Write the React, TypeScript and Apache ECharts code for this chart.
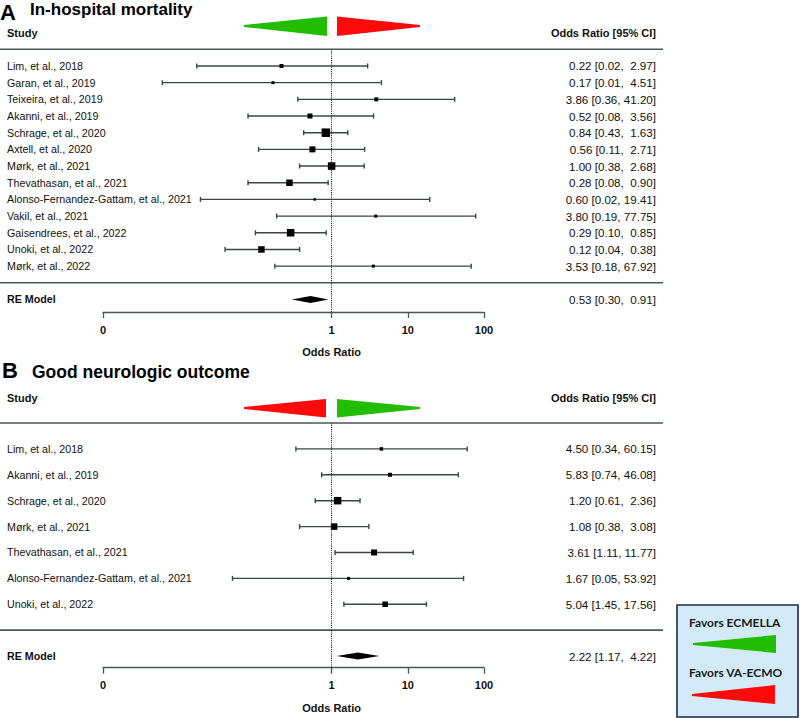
import React, { useEffect, useRef } from "react";
import * as echarts from "echarts";

// ---------- data ----------
const studiesA = [
  "Lim, et al., 2018",
  "Garan, et al., 2019",
  "Teixeira, et al., 2019",
  "Akanni, et al., 2019",
  "Schrage, et al., 2020",
  "Axtell, et al., 2020",
  "Mørk, et al., 2021",
  "Thevathasan, et al., 2021",
  "Alonso-Fernandez-Gattam, et al., 2021",
  "Vakil, et al., 2021",
  "Gaisendrees, et al., 2022",
  "Unoki, et al., 2022",
  "Mørk, et al., 2022",
];
const orA = [0.22, 0.17, 3.86, 0.52, 0.84, 0.56, 1.0, 0.28, 0.6, 3.8, 0.29, 0.12, 3.53];
const loA = [0.017, 0.006, 0.36, 0.08, 0.43, 0.11, 0.38, 0.08, 0.019, 0.19, 0.1, 0.04, 0.18];
const hiA = [2.97, 4.51, 41.2, 3.56, 1.63, 2.71, 2.68, 0.9, 19.41, 77.75, 0.85, 0.38, 67.92];
const weightA = [5, 3, 5, 7, 14, 9, 12, 10, 2, 3, 12, 10, 3];
const reA = [0.53, 0.3, 0.91];

const studiesB = [
  "Lim, et al., 2018",
  "Akanni, et al., 2019",
  "Schrage, et al., 2020",
  "Mørk, et al., 2021",
  "Thevathasan, et al., 2021",
  "Alonso-Fernandez-Gattam, et al., 2021",
  "Unoki, et al., 2022",
];
const orB = [4.5, 5.83, 1.2, 1.08, 3.61, 1.67, 5.04];
const loB = [0.34, 0.74, 0.61, 0.38, 1.11, 0.05, 1.45];
const hiB = [60.15, 46.08, 2.36, 3.08, 11.77, 53.92, 17.56];
const weightB = [4, 5, 12, 10, 9, 3, 8];
const reB = [2.22, 1.17, 4.22];

const tickValues = [0.001, 1, 10, 100];
const tickLabels = ["0", "1", "10", "100"];
const panelLetters = ["A", "B"];
const panelTitles = ["In-hospital mortality", "Good neurologic outcome"];
const legendLabels = ["Favors ECMELLA", "Favors VA-ECMO"];

// ---------- styling ----------
const FONT = "Liberation Sans";
const LEGEND_FONT = "Lato";
const GREEN = "#22bd00";
const RED = "#ff0a0a";
const CI = "#3b4646";
const RULE = "#4d5656";
const TXT = "#111111";
const NAME_SIZE = 10.7;
const VALUE_SIZE = 11.6;

const fmt = (v: number) => v.toFixed(2);
const ciText = (e: number, l: number, h: number) =>
  `${fmt(e)} [${fmt(l)}, ${h < 10 ? " " : ""}${fmt(h)}]`;

const txtStyle = (size: number, bold: boolean, extra: any) => ({
  fill: TXT,
  fontFamily: FONT,
  fontSize: size,
  fontWeight: bold ? "bold" : "normal",
  ...extra,
});

type Panel = {
  names: string[];
  or: number[];
  lo: number[];
  hi: number[];
  w: number[];
  re: number[];
  yMin: number;
  yMax: number;
};

const panels: Panel[] = [
  { names: studiesA, or: orA, lo: loA, hi: hiA, w: weightA, re: reA, yMin: -1.75, yMax: 14 },
  { names: studiesB, or: orB, lo: loB, hi: hiB, w: weightB, re: reB, yMin: -1.45, yMax: 8 },
];

const grids = [
  { left: 103, right: 316, top: 49.3, height: 262.7 },
  { left: 103, right: 316, top: 423, height: 244.7 },
];

function buildOption() {
  const series: any[] = [];
  const xAxes: any[] = [];
  const yAxes: any[] = [];
  const logTicks = tickValues.map((v) => Math.log10(v));
  const tickFmt = (v: number) => {
    const k = logTicks.findIndex((t) => Math.abs(t - v) < 1e-6);
    return k >= 0 ? tickLabels[k] : "";
  };

  panels.forEach((p, gi) => {
    const n = p.names.length;
    xAxes.push({
      gridIndex: gi,
      type: "value",
      min: -3,
      max: 2,
      axisLine: { show: true, onZero: false, lineStyle: { color: RULE, width: 1.3 } },
      axisTick: { show: true, length: 6, customValues: logTicks, lineStyle: { color: RULE, width: 1.3 } },
      axisLabel: {
        customValues: logTicks,
        formatter: tickFmt,
        fontFamily: FONT,
        fontWeight: "bold",
        fontSize: 11,
        color: TXT,
        margin: 12,
      },
      splitLine: { show: false },
    });
    yAxes.push({ gridIndex: gi, type: "value", min: p.yMin, max: p.yMax, show: false });

    const forestData = p.names.map((_, i) => [
      Math.log10(p.or[i]),
      Math.log10(p.lo[i]),
      Math.log10(p.hi[i]),
      n - i,
      1.5 + 0.5 * p.w[i],
    ]);

    // study rows: CI lines, squares, labels
    series.push({
      type: "custom",
      xAxisIndex: gi,
      yAxisIndex: gi,
      clip: false,
      silent: true,
      encode: { x: 0, y: 3 },
      data: forestData,
      renderItem: (params: any, api: any) => {
        const est = api.value(0);
        const lo = api.value(1);
        const hi = api.value(2);
        const row = api.value(3);
        const size = api.value(4);
        const pe = api.coord([est, row]);
        const pl = api.coord([lo, row]);
        const ph = api.coord([hi, row]);
        const y = pe[1];
        const cap = 2.5;
        const i = params.dataIndex;
        const ls = { stroke: CI, lineWidth: 1.4 };
        return {
          type: "group",
          children: [
            { type: "line", shape: { x1: pl[0], y1: y, x2: ph[0], y2: y }, style: ls },
            { type: "line", shape: { x1: pl[0], y1: y - cap, x2: pl[0], y2: y + cap }, style: ls },
            { type: "line", shape: { x1: ph[0], y1: y - cap, x2: ph[0], y2: y + cap }, style: ls },
            {
              type: "rect",
              shape: { x: pe[0] - size / 2, y: y - size / 2, width: size, height: size },
              style: { fill: "#000" },
            },
            {
              type: "text",
              style: txtStyle(NAME_SIZE, false, { text: p.names[i], x: 7, y, align: "left", verticalAlign: "middle" }),
            },
            {
              type: "text",
              style: txtStyle(VALUE_SIZE, false, {
                text: ciText(p.or[i], p.lo[i], p.hi[i]),
                x: 656,
                y,
                align: "right",
                verticalAlign: "middle",
              }),
            },
          ],
        };
      },
      markLine: {
        silent: true,
        symbol: ["none", "none"],
        label: { show: false },
        lineStyle: { type: "dotted", color: "#222", width: 1.1 },
        data: [{ xAxis: 0 }],
      },
    });

    // RE model, separators, axis title
    series.push({
      type: "custom",
      xAxisIndex: gi,
      yAxisIndex: gi,
      clip: false,
      silent: true,
      encode: { x: 0, y: 3 },
      data: [[Math.log10(p.re[0]), Math.log10(p.re[1]), Math.log10(p.re[2]), -1]],
      renderItem: (params: any, api: any) => {
        const est = api.value(0);
        const lo = api.value(1);
        const hi = api.value(2);
        const row = api.value(3);
        const pe = api.coord([est, row]);
        const pl = api.coord([lo, row]);
        const ph = api.coord([hi, row]);
        const y = pe[1];
        const yTop = api.coord([0, n + 1])[1];
        const ySep = api.coord([0, 0])[1];
        const yAxisLine = api.coord([0, p.yMin])[1];
        const h = 3.5;
        return {
          type: "group",
          children: [
            {
              type: "polygon",
              shape: { points: [[pl[0], y], [pe[0], y - h], [ph[0], y], [pe[0], y + h]] },
              style: { fill: "#000" },
            },
            { type: "line", shape: { x1: 0, y1: yTop, x2: 663, y2: yTop }, style: { stroke: RULE, lineWidth: 1.6 } },
            { type: "line", shape: { x1: 0, y1: ySep, x2: 663, y2: ySep }, style: { stroke: RULE, lineWidth: 1.6 } },
            {
              type: "text",
              style: txtStyle(NAME_SIZE, true, { text: "RE Model", x: 7, y, align: "left", verticalAlign: "middle" }),
            },
            {
              type: "text",
              style: txtStyle(VALUE_SIZE, false, {
                text: ciText(p.re[0], p.re[1], p.re[2]),
                x: 656,
                y,
                align: "right",
                verticalAlign: "middle",
              }),
            },
            {
              type: "text",
              style: txtStyle(11, true, {
                text: "Odds Ratio",
                x: api.coord([0, row])[0],
                y: yAxisLine + 40,
                align: "center",
                verticalAlign: "middle",
              }),
            },
          ],
        };
      },
    });
  });

  const headerText = (text: string, x: number, y: number, align: string) => ({
    type: "text",
    x,
    y,
    style: txtStyle(11, true, { text, align, verticalAlign: "middle" }),
  });
  const poly = (pts: number[][], fill: string) => ({ type: "polygon", shape: { points: pts }, style: { fill } });
  const legendText = (text: string, y: number) => ({
    type: "text",
    x: 689,
    y,
    style: {
      text,
      verticalAlign: "middle",
      fill: "#1a1a1a",
      fontFamily: LEGEND_FONT,
      fontSize: 12,
      fontWeight: "bold",
    },
  });

  const graphic: any[] = [
    // Panel A titles
    { type: "text", x: 0, y: 12, style: txtStyle(22, true, { text: panelLetters[0], verticalAlign: "middle", fill: "#000" }) },
    { type: "text", x: 30, y: 9, style: txtStyle(17, true, { text: panelTitles[0], verticalAlign: "middle", fill: "#000" }) },
    headerText("Study", 7, 33, "left"),
    headerText("Odds Ratio [95% CI]", 656, 33, "right"),
    poly([[244, 25], [327, 16.5], [327, 36], [244, 27]], GREEN),
    poly([[337, 16.5], [420, 25], [420, 27], [337, 36]], RED),
    // Panel B titles
    { type: "text", x: 2, y: 370, style: txtStyle(22, true, { text: panelLetters[1], verticalAlign: "middle", fill: "#000" }) },
    { type: "text", x: 32, y: 372, style: txtStyle(17.5, true, { text: panelTitles[1], verticalAlign: "middle", fill: "#000" }) },
    headerText("Study", 7, 398, "left"),
    headerText("Odds Ratio [95% CI]", 656, 398, "right"),
    poly([[244, 407], [326, 399], [326, 417.5], [244, 409]], RED),
    poly([[337, 399], [420, 407], [420, 409], [337, 417.5]], GREEN),
    // Legend
    {
      type: "rect",
      shape: { x: 677, y: 605, width: 121, height: 112 },
      style: { fill: "#d3ebf8", stroke: "#1d2a4a", lineWidth: 1.6 },
    },
    legendText(legendLabels[0], 622),
    poly([[693, 643], [776, 635], [776, 653], [693, 645]], GREEN),
    legendText(legendLabels[1], 672),
    poly([[692, 694], [775, 685], [775, 704], [692, 696]], RED),
  ];

  return {
    animation: false,
    backgroundColor: "#ffffff",
    grid: grids,
    xAxis: xAxes,
    yAxis: yAxes,
    series,
    graphic,
  };
}

export default function App() {
  const ref = useRef<HTMLDivElement>(null);
  useEffect(() => {
    if (!ref.current) return;
    const chart = echarts.init(ref.current, undefined, { renderer: "svg" });
    chart.setOption(buildOption() as any);
    return () => chart.dispose();
  }, []);
  return (
    <div
      ref={ref}
      style={{ position: "fixed", left: 0, top: 0, width: 800, height: 718, background: "#fff" }}
    />
  );
}
